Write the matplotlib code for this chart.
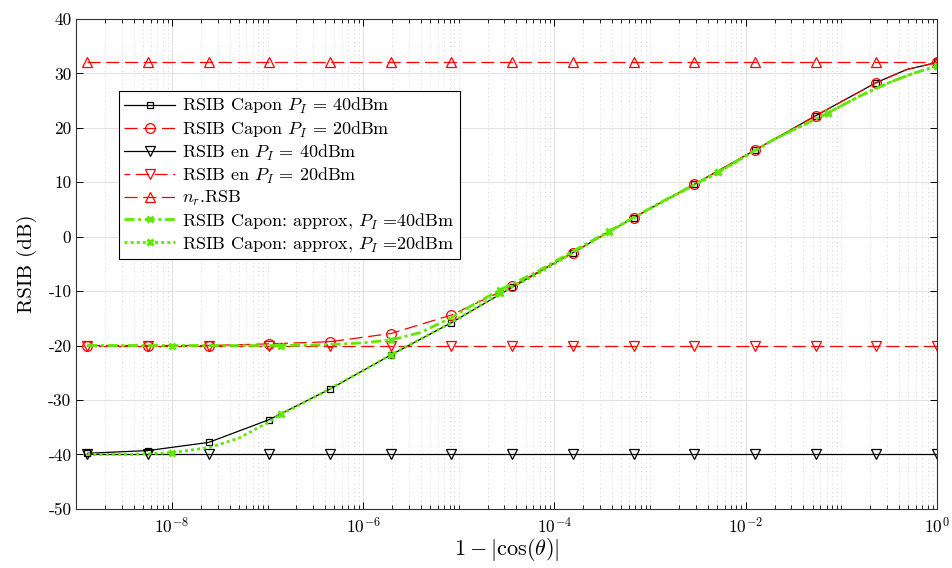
import numpy as np
import matplotlib
matplotlib.use("Agg")
import matplotlib.pyplot as plt
from matplotlib.ticker import FixedLocator, NullFormatter

plt.rcParams["font.family"] = "serif"
plt.rcParams["font.serif"] = ["cmr10", "DejaVu Serif"]
plt.rcParams["mathtext.fontset"] = "cm"
plt.rcParams["axes.unicode_minus"] = False
plt.rcParams["axes.formatter.use_mathtext"] = True

# main curves sampling (log10 of 1-|cos(theta)|)
x_exp = [-8.885, -8.250, -7.616, -6.981, -6.347, -5.712, -5.077, -4.443,
         -3.808, -3.173, -2.539, -1.904, -1.270, -0.635, -0.317, 0.0]
capon_40 = [-39.8, -39.3, -37.8, -33.6, -28.0, -21.75, -15.8, -9.3,
            -2.95, 3.5, 9.6, 15.9, 22.2, 28.3, 30.7, 32.0]
capon_20 = [-20.0, -20.0, -20.0, -19.7, -19.3, -17.8, -14.4, -9.1,
            -2.95, 3.5, 9.6, 15.9, 22.2, 28.3, 30.7, 32.0]
en_40 = [-40.0] * len(x_exp)
en_20 = [-20.0] * len(x_exp)
nr_rsb = [32.0] * len(x_exp)
main_marks = [i for i in range(len(x_exp)) if i != 14]

# approximation curves sampling
xg_exp = [-8.885, -8.43, -8.0, -7.6, -7.3, -7.0, -6.857, -6.5, -6.2, -6.0,
          -5.714, -5.4, -5.1, -4.85, -4.571, -4.2, -3.8, -3.429, -2.9,
          -2.286, -1.7, -1.143, -0.8, -0.5, -0.25, 0.0]
approx_40 = [-20.0, -20.0, -20.0, -20.0, -20.0, -20.0, -20.0, -19.9, -19.7,
             -19.5, -19.0, -17.6, -15.1, -12.5, -9.8, -6.6, -2.6, 1.0, 6.2,
             11.9, 17.9, 22.7, 25.9, 28.3, 30.0, 31.3]
approx_20 = [-40.0, -40.0, -39.7, -38.7, -37.0, -34.2, -32.6, -29.4, -26.5,
             -24.6, -21.75, -18.8, -16.0, -13.4, -10.4, -7.1, -2.9, 0.9, 6.1,
             11.8, 17.9, 22.7, 25.9, 28.3, 30.0, 31.3]
green_marks = [2, 6, 10, 14, 17, 19, 21, 25]

labels = [r"RSIB Capon $P_I$ = 40dBm", r"RSIB Capon $P_I$ = 20dBm",
          r"RSIB en $P_I$ = 40dBm", r"RSIB en $P_I$ = 20dBm",
          r"$n_r$.RSB",
          r"RSIB Capon: approx, $P_I$ =40dBm",
          r"RSIB Capon: approx, $P_I$ =20dBm"]

x = 10.0 ** np.array(x_exp)
xg = 10.0 ** np.array(xg_exp)
green = "#60e800"
red_dash = (0, (10.5, 4.5))

fig = plt.figure(figsize=(9.53, 5.68), dpi=100)
ax = fig.add_axes([0.0801, 0.1042, 0.9031, 0.8625])

ax.plot(x, capon_40, color="black", lw=0.9, marker="s", ms=5, mfc="none",
        mew=0.9, markevery=main_marks, label=labels[0])
ax.plot(x, capon_20, color="red", lw=0.9, ls=red_dash, marker="o", ms=7,
        mfc="none", mew=0.9, markevery=main_marks, label=labels[1])
ax.plot(x, en_40, color="black", lw=0.9, marker="v", ms=7, mfc="none",
        mew=0.9, markevery=main_marks, label=labels[2])
ax.plot(x, en_20, color="red", lw=0.9, ls=(6, (10.5, 4.5)), marker="v", ms=7,
        mfc="none", mew=0.9, markevery=main_marks, label=labels[3])
ax.plot(x, nr_rsb, color="red", lw=0.9, ls=red_dash, marker="^", ms=7,
        mfc="none", mew=0.9, markevery=main_marks, label=labels[4])
ax.plot(xg, approx_40, color=green, lw=2.0, ls=(0, (3.6, 1.3, 1.1, 1.3)),
        marker="x", ms=5, mew=2.0, markevery=green_marks, label=labels[5])
ax.plot(xg, approx_20, color=green, lw=2.0, ls=(0, (1.1, 1.1)),
        marker="x", ms=5, mew=2.2, markevery=green_marks, label=labels[6])

ax.set_xscale("log")
ax.set_xlim(1e-9, 1.0)
ax.set_ylim(-50, 40)

yt = list(range(-50, 41, 10))
ax.yaxis.set_major_locator(FixedLocator(yt))
ax.set_yticklabels([str(v) for v in yt])

xt = [1e-8, 1e-6, 1e-4, 1e-2, 1e0]
ax.xaxis.set_major_locator(FixedLocator(xt))
ax.set_xticklabels([r"$10^{-8}$", r"$10^{-6}$", r"$10^{-4}$", r"$10^{-2}$", r"$10^{0}$"])
minor = [m * 10.0 ** e for e in range(-9, 0) for m in range(1, 10)]
minor = [v for v in minor if not any(abs(v - t) / t < 1e-6 for t in xt)]
ax.xaxis.set_minor_locator(FixedLocator(minor))
ax.xaxis.set_minor_formatter(NullFormatter())

ax.tick_params(which="both", direction="in", top=True, right=True, labelsize=12.5)
ax.tick_params(which="major", length=5, width=0.7)
ax.tick_params(which="minor", length=3, width=0.6)
ax.tick_params(axis="x", pad=5)

ax.grid(True, which="major", color="#e2e2e2", lw=0.7, ls="-")
ax.grid(True, which="minor", axis="x", color="#c4c4c4", lw=0.6, ls=(0, (1, 4)))
ax.set_axisbelow(True)
for s in ax.spines.values():
    s.set_linewidth(0.8)
    s.set_color("#333333")

ax.set_xlabel(r"$1-|\cos(\theta)|$", fontsize=16, labelpad=0)
ax.set_ylabel("RSIB (dB)", fontsize=15, labelpad=8)

leg = ax.legend(loc="upper left", bbox_to_anchor=(0.0496, 0.853), fontsize=13,
                fancybox=False, framealpha=1, edgecolor="black",
                handlelength=2.8, handletextpad=0.4, labelspacing=0.17,
                borderpad=0.3, borderaxespad=0)
leg.get_frame().set_linewidth(0.8)

fig.savefig("out.png", dpi=100)
